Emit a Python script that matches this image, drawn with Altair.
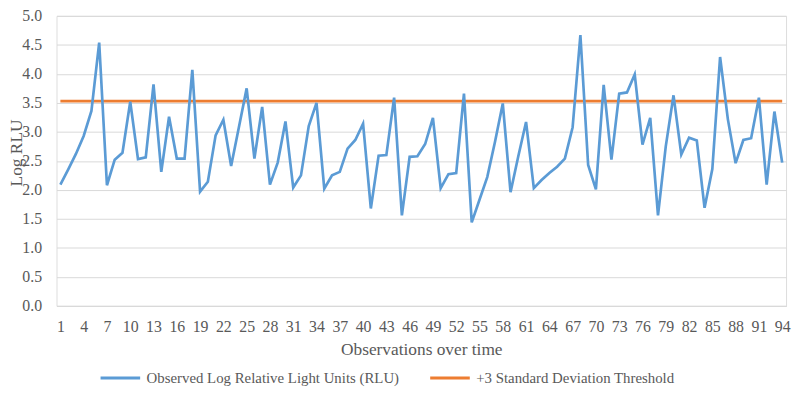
import altair as alt
import pandas as pd

OBS = list(range(1, 95))
LOG_RLU = [
    2.09, 2.35, 2.62, 2.93, 3.36, 4.54, 2.08, 2.52, 2.64, 3.52,
    2.53, 2.56, 3.82, 2.31, 3.26, 2.54, 2.54, 4.07, 1.97, 2.14,
    2.94, 3.21, 2.41, 3.08, 3.75, 2.54, 3.43, 2.09, 2.47, 3.18,
    2.04, 2.25, 3.10, 3.50, 2.02, 2.25, 2.31, 2.71, 2.86, 3.14,
    1.68, 2.59, 2.60, 3.59, 1.56, 2.57, 2.58, 2.79, 3.24, 2.03,
    2.27, 2.29, 3.66, 1.44, 1.83, 2.22, 2.83, 3.49, 1.96, 2.58,
    3.17, 2.03, 2.17, 2.29, 2.40, 2.54, 3.08, 4.67, 2.43, 2.01,
    3.81, 2.52, 3.66, 3.68, 3.99, 2.78, 3.24, 1.56, 2.75, 3.63,
    2.61, 2.90, 2.85, 1.69, 2.36, 4.29, 3.22, 2.46, 2.86, 2.89,
    3.59, 2.09, 3.35, 2.47,
]
THRESHOLD = 3.53
SERIES = ["Observed Log Relative Light Units (RLU)", "+3 Standard Deviation Threshold"]
COLORS = ["#5B9BD5", "#ED7D31"]
X_TICKS = list(range(1, 95, 3))
Y_TICKS = [0.0, 0.5, 1.0, 1.5, 2.0, 2.5, 3.0, 3.5, 4.0, 4.5, 5.0]

obs_df = pd.DataFrame({"obs": OBS, "value": LOG_RLU, "series": SERIES[0]})
thr_df = pd.DataFrame({"obs": [OBS[0], OBS[-1]], "value": [THRESHOLD, THRESHOLD], "series": SERIES[1]})

FONT = "Liberation Serif"
TXT = "#595959"

x = alt.X(
    "obs:Q",
    scale=alt.Scale(domain=[0.5, 94.5], nice=False, zero=False),
    axis=alt.Axis(
        values=X_TICKS, grid=False, ticks=False, tickSize=0, domain=True,
        domainColor="#d9d9d9", labelPadding=13, labelFontSize=16, labelFont=FONT,
        labelColor=TXT, title="Observations over time", titleFont=FONT,
        titleFontSize=17.5, titleFontWeight="normal", titleColor=TXT, titlePadding=6,
        labelFlush=False,
    ),
)
y = alt.Y(
    "value:Q",
    scale=alt.Scale(domain=[0, 5], nice=False),
    axis=alt.Axis(
        values=Y_TICKS, format=".1f", grid=True, gridColor="#d9d9d9", ticks=False,
        tickSize=0, domain=False, labelPadding=15, labelFontSize=16, labelFont=FONT,
        labelColor=TXT, title="Log RLU", titleFont=FONT, titleFontSize=17.5,
        titleFontWeight="normal", titleColor=TXT, titleX=-40, titleY=138,
        titleAngle=-90, titleAlign="center", titleBaseline="middle",
    ),
)
color = alt.Color(
    "series:N",
    scale=alt.Scale(domain=SERIES, range=COLORS),
    legend=alt.Legend(
        title=None, orient="none", legendX=43, legendY=344, direction="horizontal",
        symbolType="stroke", symbolSize=1600, symbolStrokeWidth=3,
        labelFont=FONT, labelFontSize=15, labelColor=TXT, labelLimit=400,
        columnPadding=24, labelOffset=5,
    ),
)

obs_line = alt.Chart(obs_df).mark_line(strokeWidth=2.7).encode(x=x, y=y, color=color)
thr_line = alt.Chart(thr_df).mark_line(strokeWidth=3).encode(x=x, y=y, color=color)

chart = alt.layer(thr_line, obs_line).properties(
    width=737, height=293,
    autosize=alt.AutoSizeParams(type="none"),
    padding={"left": 49, "top": 6, "right": 6, "bottom": 80},
).configure_view(stroke=None).configure(background="white")

chart.save("out.html", embed_options={"renderer": "svg", "actions": False})
